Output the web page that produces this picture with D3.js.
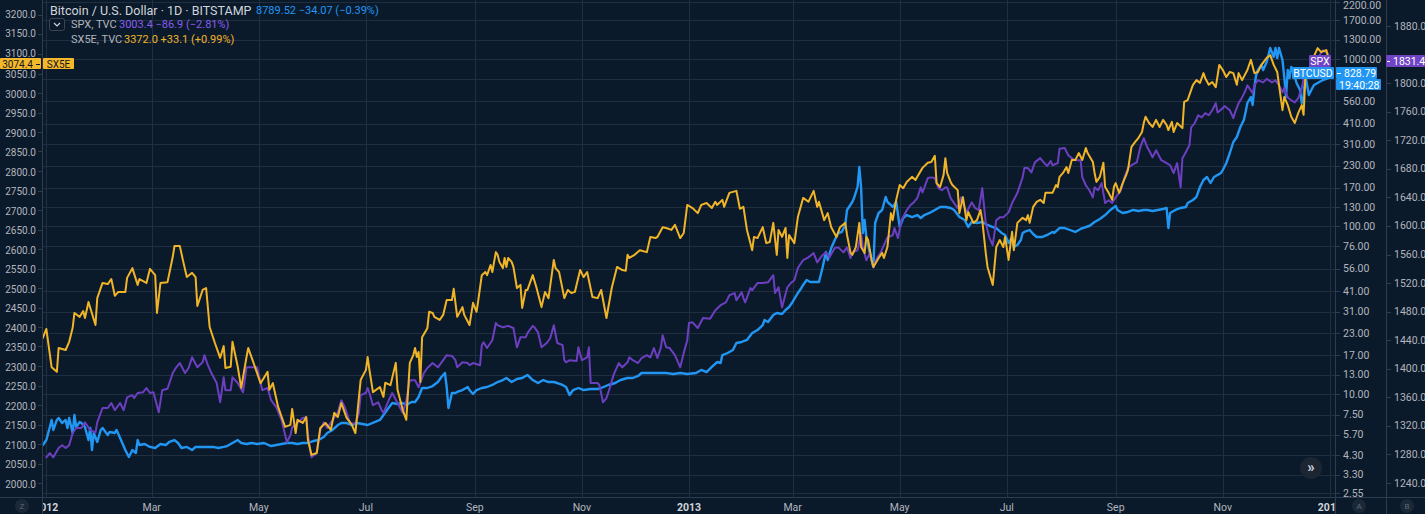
<!DOCTYPE html>
<html><head><meta charset="utf-8">
<script src="https://cdn.jsdelivr.net/npm/d3@7"></script>
<style>
html,body{margin:0;padding:0;background:#0b1a2a;overflow:hidden;}
svg{display:block;}
text{font-family:Roboto,"Liberation Sans",Arial,sans-serif;}
</style></head><body>
<svg id="chart" width="1425" height="514"></svg>
<script>
// ---- DATA: [day offset from 2012-01-01, value] ----
const sx5eData = [[-2,2372],[0,2395],[3,2297],[6,2285],[7,2346],[11,2341],[13,2362],[15,2398],[16,2436],[19,2426],[21,2441],[22,2423],[24,2464],[28,2405],[29,2474],[32,2513],[35,2510],[37,2523],[39,2480],[41,2490],[45,2490],[46,2526],[49,2551],[52,2508],[53,2523],[57,2513],[59,2549],[62,2533],[63,2436],[65,2513],[69,2515],[72,2580],[73,2608],[76,2608],[78,2567],[80,2528],[83,2539],[85,2528],[86,2454],[89,2495],[91,2500],[93,2400],[96,2359],[99,2321],[101,2351],[102,2295],[105,2298],[106,2362],[109,2298],[111,2244],[114,2323],[115,2346],[118,2308],[122,2256],[126,2285],[127,2239],[129,2256],[132,2195],[136,2144],[139,2149],[140,2190],[142,2128],[143,2162],[146,2154],[148,2169],[149,2110],[151,2072],[154,2077],[156,2141],[159,2154],[162,2136],[164,2180],[166,2169],[168,2205],[171,2167],[174,2149],[176,2128],[179,2264],[182,2290],[183,2323],[184,2290],[186,2233],[190,2246],[192,2221],[193,2257],[196,2251],[199,2308],[200,2239],[203,2187],[205,2162],[207,2308],[209,2328],[210,2346],[211,2323],[212,2336],[213,2259],[214,2374],[217,2397],[218,2439],[220,2436],[221,2426],[224,2418],[226,2431],[228,2469],[231,2469],[232,2498],[234,2426],[237,2451],[238,2431],[241,2405],[243,2462],[245,2439],[246,2469],[248,2533],[250,2541],[251,2533],[253,2559],[254,2541],[256,2592],[257,2585],[258,2567],[260,2551],[261,2577],[262,2554],[263,2577],[265,2567],[266,2554],[268,2500],[270,2508],[271,2449],[273,2495],[274,2495],[277,2533],[279,2503],[282,2451],[284,2490],[286,2474],[289,2572],[290,2551],[292,2541],[295,2474],[297,2495],[299,2487],[301,2490],[304,2546],[306,2528],[308,2541],[311,2477],[314,2474],[316,2495],[319,2423],[322,2500],[325,2554],[328,2546],[330,2544],[331,2585],[332,2577],[335,2585],[338,2597],[342,2592],[344,2631],[347,2628],[348,2631],[351,2656],[353,2654],[356,2649],[358,2662],[361,2628],[363,2641],[365,2713],[368,2705],[371,2692],[373,2713],[376,2718],[379,2705],[381,2721],[382,2713],[385,2726],[386,2708],[389,2744],[393,2749],[395,2703],[397,2708],[399,2649],[402,2597],[403,2631],[405,2628],[408,2656],[410,2615],[412,2618],[414,2667],[416,2585],[417,2649],[419,2631],[421,2654],[422,2577],[423,2636],[426,2615],[428,2682],[431,2731],[434,2721],[437,2749],[439,2708],[440,2721],[443,2674],[445,2692],[447,2656],[450,2631],[452,2656],[455,2667],[456,2636],[458,2590],[459,2585],[461,2605],[463,2667],[464,2605],[466,2590],[467,2631],[468,2623],[470,2572],[471,2554],[474,2577],[476,2590],[477,2577],[479,2605],[481,2692],[482,2674],[484,2726],[486,2764],[488,2756],[490,2772],[493,2785],[495,2777],[496,2785],[499,2808],[502,2821],[504,2823],[506,2839],[507,2769],[509,2759],[511,2790],[512,2833],[513,2795],[515,2772],[516,2764],[519,2751],[520,2692],[522,2733],[524,2674],[525,2695],[528,2667],[530,2674],[532,2700],[533,2674],[535,2590],[536,2554],[539,2508],[541,2605],[543,2623],[545,2605],[546,2631],[548,2572],[550,2644],[551,2597],[553,2667],[556,2680],[558,2674],[559,2687],[560,2667],[562,2708],[564,2721],[566,2726],[568,2718],[569,2744],[573,2744],[575,2764],[576,2759],[577,2785],[579,2795],[581,2810],[582,2795],[584,2828],[586,2828],[588,2846],[590,2828],[592,2859],[593,2846],[596,2823],[597,2795],[598,2772],[600,2785],[602,2821],[603,2759],[605,2744],[607,2726],[608,2759],[609,2769],[611,2744],[613,2769],[615,2790],[616,2803],[618,2862],[620,2874],[622,2885],[624,2900],[625,2923],[626,2939],[628,2923],[630,2913],[632,2931],[634,2913],[636,2931],[638,2918],[639,2905],[641,2926],[642,2900],[644,2923],[647,2910],[648,2977],[650,2982],[651,2995],[653,3021],[655,3033],[657,3026],[659,3051],[660,3038],[662,3021],[664,3028],[666,3015],[668,3072],[670,3059],[672,3041],[674,3054],[676,3051],[678,3021],[679,3051],[681,3033],[684,3059],[686,3085],[688,3051],[690,3054],[692,3072],[695,3090],[697,3097],[699,3072],[701,3054],[702,3021],[704,2956],[705,2990],[707,2969],[709,2939],[711,2923],[713,2949],[715,2969],[716,2944],[717,3038],[719,3059],[721,3085],[724,3115],[726,3105],[729,3110],[730,3090]];

const spxData = [[0,1276],[2,1282],[4,1276],[7,1289],[9,1293],[11,1289],[13,1293],[15,1310],[17,1317],[20,1317],[22,1325],[25,1314],[28,1311],[29,1325],[32,1345],[35,1345],[37,1352],[39,1342],[42,1352],[44,1342],[46,1360],[49,1363],[50,1359],[52,1366],[55,1367],[57,1373],[59,1366],[61,1367],[64,1339],[66,1370],[69,1372],[72,1394],[74,1402],[76,1408],[79,1394],[81,1401],[83,1416],[86,1402],[89,1409],[90,1419],[92,1405],[94,1394],[97,1380],[99,1353],[101,1388],[102,1370],[105,1370],[106,1388],[109,1380],[112,1367],[114,1402],[117,1402],[120,1402],[123,1370],[126,1373],[128,1356],[131,1346],[134,1328],[137,1297],[139,1307],[140,1318],[143,1324],[146,1331],[148,1332],[149,1307],[151,1276],[154,1282],[156,1314],[158,1325],[160,1317],[163,1328],[166,1339],[168,1356],[170,1346],[173,1324],[176,1323],[178,1338],[179,1363],[182,1366],[183,1373],[184,1366],[186,1349],[189,1353],[191,1342],[192,1338],[195,1356],[197,1366],[200,1352],[203,1338],[205,1356],[207,1384],[210,1384],[212,1374],[215,1394],[217,1401],[220,1408],[223,1402],[226,1412],[228,1419],[231,1418],[233,1412],[234,1402],[237,1409],[240,1408],[241,1405],[243,1408],[247,1405],[248,1433],[249,1437],[251,1429],[254,1440],[256,1464],[257,1461],[260,1458],[263,1460],[266,1457],[268,1430],[270,1444],[273,1444],[274,1450],[277,1460],[278,1458],[280,1451],[282,1430],[285,1436],[287,1443],[289,1461],[291,1436],[294,1433],[295,1412],[296,1409],[298,1412],[302,1411],[303,1430],[305,1412],[308,1416],[309,1430],[310,1380],[314,1380],[315,1377],[317,1353],[319,1359],[321,1374],[323,1391],[326,1408],[328,1402],[331,1409],[332,1416],[334,1412],[337,1408],[339,1415],[342,1419],[344,1416],[346,1429],[348,1415],[350,1430],[351,1447],[353,1430],[355,1429],[358,1419],[361,1402],[363,1422],[365,1440],[366,1464],[368,1465],[371,1457],[374,1471],[378,1470],[381,1482],[384,1489],[387,1493],[389,1503],[392,1506],[393,1496],[396,1507],[397,1499],[398,1493],[401,1513],[402,1510],[405,1520],[408,1520],[411,1521],[414,1531],[415,1506],[417,1514],[419,1486],[422,1514],[424,1520],[426,1524],[428,1541],[429,1545],[431,1552],[434,1556],[437,1562],[439,1549],[442,1559],[444,1563],[446,1556],[449,1569],[451,1570],[454,1563],[456,1570],[458,1555],[459,1563],[462,1566],[464,1590],[465,1570],[467,1552],[469,1562],[471,1542],[473,1555],[475,1562],[477,1573],[479,1584],[482,1587],[483,1597],[485,1583],[487,1608],[490,1622],[492,1629],[494,1633],[496,1639],[498,1654],[499,1647],[502,1667],[504,1668],[506,1667],[508,1653],[510,1650],[512,1654],[513,1654],[515,1639],[517,1632],[519,1625],[521,1640],[524,1619],[527,1633],[529,1625],[531,1622],[533,1653],[535,1604],[537,1584],[539,1573],[541,1608],[543,1612],[545,1612],[548,1619],[550,1632],[553,1646],[556,1668],[557,1681],[559,1681],[561,1675],[563,1689],[566,1695],[568,1689],[570,1684],[572,1691],[573,1685],[576,1688],[577,1708],[580,1709],[582,1699],[584,1695],[586,1692],[589,1692],[590,1668],[592,1657],[594,1650],[596,1640],[597,1654],[599,1650],[601,1660],[603,1632],[605,1636],[607,1632],[609,1640],[612,1650],[614,1668],[616,1681],[618,1685],[621,1689],[623,1710],[625,1723],[627,1710],[628,1706],[630,1696],[632,1706],[635,1692],[638,1688],[640,1685],[642,1674],[644,1688],[646,1654],[647,1695],[648,1699],[651,1713],[652,1738],[654,1744],[656,1755],[658,1752],[660,1758],[662,1755],[664,1762],[666,1772],[667,1759],[670,1765],[671,1768],[674,1762],[676,1751],[677,1759],[679,1772],[681,1780],[683,1790],[684,1797],[687,1786],[688,1797],[690,1804],[693,1801],[695,1806],[698,1801],[700,1804],[702,1797],[704,1787],[705,1794],[707,1780],[709,1776],[711,1773],[713,1779],[715,1793],[716,1807],[718,1814],[720,1821],[722,1829],[725,1839],[727,1846],[729,1843],[730,1841]];

const btcData = [[-2,4.96],[0,5.31],[2,6.35],[3,7.00],[4,6.10],[6,7.00],[7,7.19],[9,6.71],[11,7.00],[12,6.27],[13,7.19],[15,5.85],[16,7.49],[17,6.35],[19,6.81],[20,6.71],[22,6.35],[24,5.31],[25,6.27],[26,4.63],[27,5.85],[29,5.17],[31,6.10],[32,6.27],[35,5.69],[36,5.93],[39,5.85],[40,6.10],[43,5.17],[45,4.63],[47,4.21],[49,4.63],[51,4.44],[52,5.31],[53,4.96],[56,5.03],[59,4.83],[62,4.76],[65,5.03],[68,4.96],[70,5.17],[73,5.31],[75,5.10],[77,4.76],[80,4.83],[83,4.63],[85,4.83],[88,4.83],[90,4.83],[95,4.83],[98,4.76],[101,4.83],[103,4.89],[106,5.10],[109,5.31],[111,5.10],[114,5.03],[117,5.10],[120,5.03],[124,5.10],[128,4.89],[131,4.96],[134,5.03],[137,5.10],[140,5.10],[143,5.03],[146,5.10],[149,5.10],[152,5.24],[155,5.31],[158,5.54],[160,5.85],[163,6.10],[166,6.53],[168,6.71],[171,6.71],[174,6.53],[177,6.71],[180,6.62],[183,6.53],[190,7.00],[194,8.03],[197,8.84],[200,8.71],[203,8.84],[205,8.60],[208,8.96],[210,8.96],[212,9.60],[214,10.86],[217,10.86],[220,11.16],[223,11.79],[225,12.64],[227,13.35],[228,11.01],[229,8.25],[231,10.14],[233,10.14],[234,10.28],[237,10.56],[240,11.01],[241,10.56],[243,10.00],[245,10.56],[248,10.86],[251,11.01],[254,11.32],[257,11.79],[260,12.12],[262,12.46],[265,11.79],[268,12.29],[271,12.46],[274,12.99],[277,12.12],[280,11.63],[283,12.12],[286,11.79],[289,11.79],[291,11.63],[294,11.32],[296,11.01],[298,9.86],[300,10.56],[303,10.86],[306,10.56],[310,10.71],[314,10.71],[316,10.86],[320,11.32],[324,11.63],[327,12.12],[331,12.46],[334,12.46],[337,12.81],[339,13.35],[342,13.35],[346,13.35],[349,13.35],[353,13.35],[357,13.16],[361,13.35],[365,13.16],[370,13.35],[373,13.91],[376,13.53],[379,14.50],[382,15.52],[384,15.31],[385,17.09],[388,17.57],[391,18.31],[393,20.16],[396,20.44],[399,21.01],[402,23.13],[405,24.10],[408,25.81],[409,27.66],[411,26.91],[414,29.63],[416,30.45],[419,30.03],[421,31.73],[423,33.07],[425,35.43],[428,40.09],[430,42.95],[431,44.76],[433,47.94],[435,46.64],[440,46.64],[442,56.52],[444,70.43],[445,63.10],[447,74.39],[449,83.06],[451,91.46],[453,92.73],[455,102.1],[456,125.5],[459,140.1],[460,148.0],[462,172.1],[463,226.5],[464,172.1],[465,91.46],[466,109.4],[467,86.55],[469,69.47],[471,57.30],[472,104.9],[474,120.4],[476,125.5],[478,150.1],[479,140.1],[482,130.8],[484,140.1],[486,99.3],[488,112.4],[490,117.1],[493,113.9],[496,117.1],[498,112.4],[500,117.1],[503,120.4],[506,125.5],[509,130.8],[512,130.8],[515,129.0],[517,125.5],[520,113.9],[523,109.4],[525,99.3],[527,106.4],[530,104.9],[533,106.4],[536,102.1],[539,99.3],[541,97.95],[544,91.46],[546,88.98],[548,79.72],[550,86.55],[551,75.43],[553,77.56],[555,83.06],[556,91.46],[557,92.73],[560,95.30],[562,90.22],[564,86.55],[567,86.55],[570,88.98],[573,92.73],[574,91.46],[577,97.95],[580,97.95],[583,95.30],[586,92.73],[589,96.63],[592,99.3],[594,100.7],[597,106.4],[600,110.9],[603,117.1],[606,125.5],[609,132.6],[610,125.5],[613,120.4],[616,122.1],[619,125.5],[622,123.8],[625,125.5],[627,125.5],[630,123.8],[633,125.5],[636,127.2],[638,129.0],[639,97.95],[640,120.4],[643,125.5],[646,129.0],[649,130.8],[650,138.1],[653,143.9],[655,150.1],[657,172.1],[659,189.5],[661,197.5],[663,181.8],[665,197.5],[667,203.0],[669,208.6],[670,217.4],[672,239.4],[674,274.7],[676,319.5],[678,342.2],[680,392.6],[682,432.4],[683,482.6],[684,546.1],[686,593.1],[687,531.3],[688,680.6],[689,802.6],[690,859.7],[692,920.9],[693,859.7],[695,959.6],[697,1163],[699,1028],[700,1163],[701,1014],[702,1163],[704,986],[705,781],[706,593],[707,860],[708,770],[709,896],[711,781],[712,719],[714,653],[715,546],[716,593],[717,803],[718,700],[719,610],[721,671],[722,700],[724,719],[727,749],[730,770],[731,828.79]];

const leftTicks = d3.range(2000, 3201, 50);
const btcTicks = [2200,1700,1300,1000,760,560,410,310,230,170,130,100,76,56,41,31,23,17,13,10,7.5,5.7,4.3,3.3,2.55];
const spxTicks = d3.range(1240, 1881, 40);
const monthTickDays = ["2012-01-01","2012-03-01","2012-05-01","2012-07-01","2012-09-01","2012-11-01","2013-01-01","2013-03-01","2013-05-01","2013-07-01","2013-09-01","2013-11-01","2014-01-01"];
const monthTickLabels = ["2012","Mar","May","Jul","Sep","Nov","2013","Mar","May","Jul","Sep","Nov","2014"];
const lastSX5E = 3074.4, lastSPX = 1831.4, lastBTC = 828.79;

// ---- LAYOUT / STYLE ----
const W = 1425, H = 514;
const P = {l: 43, r: 1335, t: 0, b: 497};
const BG = "#0b1a2a", GRID = "#1f2f40", SEP = "#2e3d4e", TXT = "#b2b5be";
const C_BTC = "#2196f3", C_SPX = "#6c3fc0", C_SX = "#f0b429";

const base = Date.UTC(2012, 0, 1);
const toDate = d => new Date(base + d * 864e5);
const x = d3.scaleUtc().domain([toDate(-1.9), toDate(733.9)]).range([P.l, P.r]);
const yL = d3.scaleLinear().domain([2000, 3200]).range([483, 15]);
const yB = d3.scaleLog().domain([10, 1000]).range([394, 59]);
const yS = d3.scaleLinear().domain([1240, 1880]).range([483, 26]);

const svg = d3.select("#chart");
const defs = svg.append("defs");
defs.append("clipPath").attr("id", "plotClip").append("rect")
  .attr("x", P.l).attr("y", P.t).attr("width", P.r - P.l).attr("height", P.b - P.t);
defs.append("clipPath").attr("id", "xClip").append("rect")
  .attr("x", P.l).attr("y", P.b).attr("width", P.r - P.l).attr("height", H - P.b);

svg.append("rect").attr("width", W).attr("height", H).attr("fill", BG);

// grid
const grid = svg.append("g").attr("clip-path", "url(#plotClip)");
grid.selectAll("line.h").data(btcTicks).join("line")
  .attr("x1", P.l).attr("x2", P.r)
  .attr("y1", d => Math.round(yB(d)) + 0.5).attr("y2", d => Math.round(yB(d)) + 0.5)
  .attr("stroke", GRID).attr("stroke-width", 1);
const monthDates = monthTickDays.map(s => new Date(s + "T00:00:00Z"));
grid.selectAll("line.v").data(monthDates).join("line")
  .attr("x1", d => Math.round(x(d)) + 0.5).attr("x2", d => Math.round(x(d)) + 0.5)
  .attr("y1", P.t).attr("y2", P.b)
  .attr("stroke", GRID).attr("stroke-width", 1);

// series
const plotG = svg.append("g").attr("clip-path", "url(#plotClip)");
function drawLine(data, yScale, color, w) {
  const line = d3.line().x(d => x(toDate(d[0]))).y(d => yScale(d[1]));
  plotG.append("path").datum(data).attr("d", line)
    .attr("fill", "none").attr("stroke", color).attr("stroke-width", w)
    .attr("stroke-linejoin", "round").attr("stroke-linecap", "round");
}
drawLine(btcData, yB, C_BTC, 2.4);
drawLine(spxData, yS, C_SPX, 2);
drawLine(sx5eData, yL, C_SX, 2);

// separators
const sep = svg.append("g").attr("stroke", SEP).attr("stroke-width", 1);
sep.append("line").attr("x1", 0).attr("x2", W).attr("y1", P.b + 0.5).attr("y2", P.b + 0.5);
sep.append("line").attr("x1", 42.5).attr("x2", 42.5).attr("y1", 0).attr("y2", H);
sep.append("line").attr("x1", 1335.5).attr("x2", 1335.5).attr("y1", 0).attr("y2", H);
sep.append("line").attr("x1", 1386.5).attr("x2", 1386.5).attr("y1", 0).attr("y2", H);

const ySX = yL(lastSX5E), ySP = yS(lastSPX), yBT = yB(lastBTC);

// left axis (SX5E)
const la = svg.append("g");
leftTicks.forEach(v => {
  const y = yL(v);
  la.append("line").attr("x1", 38).attr("x2", 42).attr("y1", Math.round(y) + 0.5).attr("y2", Math.round(y) + 0.5).attr("stroke", SEP);
  if (Math.abs(y - ySX) < 8) return;
  la.append("text").attr("x", 36).attr("y", y + (y > ySX ? 1 : -1)).attr("text-anchor", "end").attr("dominant-baseline", "central")
    .attr("font-size", 10).attr("fill", TXT).text(d3.format(".1f")(v));
});

// BTC axis
const ba = svg.append("g");
btcTicks.forEach(v => {
  const y = yB(v);
  ba.append("line").attr("x1", 1336).attr("x2", 1340).attr("y1", Math.round(y) + 0.5).attr("y2", Math.round(y) + 0.5).attr("stroke", SEP);
  if (y > yBT - 10 && y < yBT + 20) return; // hidden behind price label
  ba.append("text").attr("x", 1343).attr("y", Math.max(y, 5)).attr("dominant-baseline", "central")
    .attr("font-size", 10.5).attr("fill", TXT).text(d3.format(".2f")(v));
});

// SPX axis
const sa = svg.append("g");
spxTicks.forEach(v => {
  const y = yS(v);
  sa.append("line").attr("x1", 1387).attr("x2", 1391).attr("y1", Math.round(y) + 0.5).attr("y2", Math.round(y) + 0.5).attr("stroke", SEP);
  if (Math.abs(y - ySP) < 10) return; // hidden behind price label
  sa.append("text").attr("x", 1394).attr("y", y).attr("dominant-baseline", "central")
    .attr("font-size", 10.5).attr("fill", TXT).text(d3.format(".1f")(v));
});

// x axis
const xa = svg.append("g").attr("clip-path", "url(#xClip)");
monthDates.forEach((d, i) => {
  const lbl = monthTickLabels[i];
  const isYear = /^\d{4}$/.test(lbl);
  xa.append("text").attr("x", x(d)).attr("y", 507).attr("text-anchor", "middle")
    .attr("dominant-baseline", "central").attr("font-size", 10.5)
    .attr("font-weight", isYear ? 700 : 400).attr("fill", isYear ? "#d1d4dc" : TXT).text(lbl);
});

// badges
function badge(cx, cy, r, label, fill, tc, fs) {
  svg.append("circle").attr("cx", cx).attr("cy", cy).attr("r", r).attr("fill", fill);
  svg.append("text").attr("x", cx).attr("y", cy + 0.5).attr("text-anchor", "middle").attr("dominant-baseline", "central")
    .attr("font-size", fs).attr("fill", tc).text(label);
}
badge(22, 506, 7, "Z", "#1a2837", "#5d6877", 8);
badge(1359, 506, 7, "A", "#1a2837", "#5d6877", 8);
badge(1407, 506, 7, "B", "#1a2837", "#5d6877", 8);
svg.append("circle").attr("cx", 1311).attr("cy", 468).attr("r", 11).attr("fill", "#1c2633");
svg.append("text").attr("x", 1311).attr("y", 467).attr("text-anchor", "middle").attr("dominant-baseline", "central")
  .attr("font-size", 15).attr("font-weight", 700).attr("fill", "#d1d4dc").text("»");

// price labels
function box(x0, x1, yc, h, fill, label, tc, anchor, tx, dash, fs) {
  svg.append("rect").attr("x", x0).attr("y", Math.round(yc - h / 2)).attr("width", x1 - x0).attr("height", h).attr("fill", fill).attr("rx", 1);
  svg.append("text").attr("x", tx).attr("y", Math.round(yc - h / 2) + h / 2 + 0.5).attr("text-anchor", anchor)
    .attr("dominant-baseline", "central").attr("font-size", fs || 10.5).attr("fill", tc).text(label);
  if (dash) svg.append("line").attr("x1", dash[0]).attr("x2", dash[1]).attr("y1", Math.round(yc) + 0.5).attr("y2", Math.round(yc) + 0.5).attr("stroke", tc);
}
box(0, 41, ySX, 11, "#f5b82b", "3074.4", "#131722", "end", 33, [36, 40], 10);
box(43, 74, ySX, 11, "#f5b82b", "SX5E", "#131722", "middle", 58.5, null, 10);
box(1309, 1331, ySP, 12, "#7144c6", "SPX", "#ffffff", "middle", 1320, null);
box(1386, 1425, ySP, 12, "#7144c6", "1831.4", "#ffffff", "start", 1393, [1387, 1390]);
box(1292, 1334, yBT, 12, C_BTC, "BTCUSD", "#ffffff", "middle", 1313, null);
box(1336, 1377, yBT, 12, C_BTC, "828.79", "#ffffff", "start", 1344, [1337, 1341]);
box(1336, 1381, yBT + 11.5, 11, C_BTC, "19:40:28", "#ffffff", "start", 1339, null);

// legend
const lg = svg.append("g");
lg.append("text").attr("x", 50).attr("y", 10).attr("dominant-baseline", "central").attr("font-size", 12.5)
  .attr("fill", "#d1d4dc").text("Bitcoin / U.S. Dollar · 1D · BITSTAMP");
lg.append("text").attr("x", 256).attr("y", 10).attr("dominant-baseline", "central").attr("font-size", 11)
  .attr("fill", C_BTC).text("8789.52  −34.07 (−0.39%)");
lg.append("rect").attr("x", 49.5).attr("y", 18.5).attr("width", 15).attr("height", 12).attr("rx", 2)
  .attr("fill", BG).attr("stroke", "#3a4554");
lg.append("path").attr("d", "M54 23 L57 26 L60 23").attr("fill", "none").attr("stroke", "#d1d4dc").attr("stroke-width", 1.2);
lg.append("text").attr("x", 71).attr("y", 24.5).attr("dominant-baseline", "central").attr("font-size", 11)
  .attr("fill", "#b2b5be").text("SPX, TVC");
lg.append("text").attr("x", 119).attr("y", 24.5).attr("dominant-baseline", "central").attr("font-size", 11)
  .attr("fill", "#8a5cf0").text("3003.4  −86.9 (−2.81%)");
lg.append("text").attr("x", 71).attr("y", 39.5).attr("dominant-baseline", "central").attr("font-size", 11)
  .attr("fill", "#b2b5be").text("SX5E, TVC");
lg.append("text").attr("x", 124).attr("y", 39.5).attr("dominant-baseline", "central").attr("font-size", 11)
  .attr("fill", C_SX).text("3372.0  +33.1 (+0.99%)");
</script>
</body></html>
